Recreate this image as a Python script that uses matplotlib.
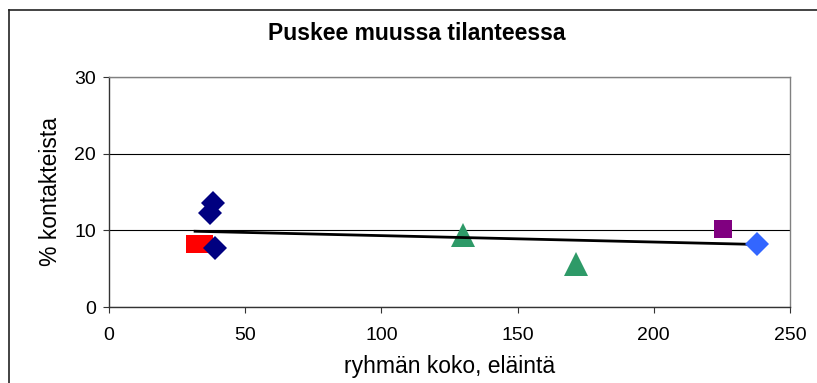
import numpy as np
import matplotlib
matplotlib.use("Agg")
import matplotlib.pyplot as plt
from matplotlib.lines import Line2D

plt.rcParams['font.family'] = ['Liberation Sans', 'DejaVu Sans']

# group size (animals) and share of contacts (%) per herd, by group
navy_x = [38.2, 37.1, 39.0]
navy_y = [13.6, 12.3, 7.7]
red_x = [31.6, 34.9]
red_y = [8.2, 8.2]
green_x = [130.1, 171.3]
green_y = [9.4, 5.6]
purple_x = [225.4]
purple_y = [10.2]
blue_x = [237.9]
blue_y = [8.2]

x_ticks = [0, 50, 100, 150, 200, 250]
y_ticks = [0, 10, 20, 30]

title = "Puskee muussa tilanteessa"
x_label = "ryhmän koko, eläintä"
y_label = "% kontakteista"

W, H = 817, 383
fig = plt.figure(figsize=(W / 100, H / 100), dpi=100)
ax = fig.add_axes([109 / W, 1 - 307 / H, (790 - 109) / W, (307 - 77) / H])

# outer chart frame (left and top edges)
fig.add_artist(Line2D([9 / W, 9 / W], [0, 1 - 10 / H], color='#222222', lw=1.2,
                      transform=fig.transFigure))
fig.add_artist(Line2D([9 / W, 1], [1 - 10 / H, 1 - 10 / H], color='#222222', lw=1.2,
                      transform=fig.transFigure))

ax.set_xlim(0, 250)
ax.set_ylim(0, 30)
ax.set_xticks(x_ticks)
ax.set_yticks(y_ticks)
ax.yaxis.grid(True, color='black', lw=0.8)
ax.set_axisbelow(True)

for s in ['top', 'right']:
    ax.spines[s].set_color('#808080')
    ax.spines[s].set_linewidth(1.0)
for s in ['left', 'bottom']:
    ax.spines[s].set_color('#333333')
    ax.spines[s].set_linewidth(1.0)
ax.tick_params(direction='out', length=4.5, width=0.8, color='#333333',
               labelsize=14)
ax.tick_params(axis='x', pad=10)
ax.tick_params(axis='y', pad=5)

# linear trend over all points
all_x = np.array(navy_x + red_x + green_x + purple_x + blue_x)
all_y = np.array(navy_y + red_y + green_y + purple_y + blue_y)
k, b = np.polyfit(all_x, all_y, 1)
tx = np.array([all_x.min(), all_x.max()])

ax.plot(red_x, red_y, 's', color='#FF0000', ms=13.5, mew=0, zorder=3)
ax.plot(navy_x, navy_y, 'D', color='#000080', ms=12, mew=0, zorder=4)
ax.plot(green_x, green_y, '^', color='#2E9A68', ms=17, mew=0, zorder=3)
ax.plot(purple_x, purple_y, 's', color='#800080', ms=13.5, mew=0, zorder=3)
ax.plot(tx, k * tx + b, color='black', lw=2.0, zorder=3.5)
ax.plot(blue_x, blue_y, 'D', color='#3366FF', ms=12, mew=0, zorder=4)

fig.text(417 / W, 1 - 33 / H, title, ha='center', va='center',
         fontsize=16.5, fontweight='bold')
ax.set_xlabel(x_label, fontsize=16.5, labelpad=8)
ax.set_ylabel(y_label, fontsize=16.5, labelpad=9)

fig.savefig('out.png', dpi=100)
